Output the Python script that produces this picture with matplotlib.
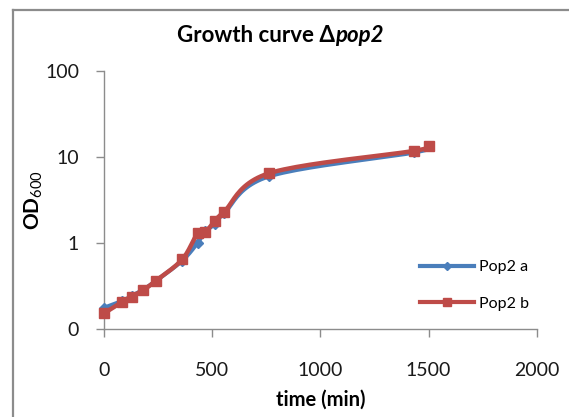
import numpy as np
import matplotlib
matplotlib.use('Agg')
import matplotlib.pyplot as plt
from matplotlib.lines import Line2D
from matplotlib.ticker import FixedLocator, FixedFormatter, NullLocator

# growth curve data
time_min = [0, 85, 128, 182, 240, 362, 433, 467, 513, 555, 762, 1434, 1502]
od_pop2a = [0.175, 0.21, 0.24, 0.285, 0.36, 0.62, 1.0, 1.35, 1.65, 2.2, 5.9, 11.2, 13.2]
od_pop2b = [0.151, 0.206, 0.236, 0.282, 0.361, 0.641, 1.29, 1.32, 1.80, 2.29, 6.41, 11.7, 13.4]

yticks = [0.1, 1, 10, 100]
ytick_labels = ['0', '1', '10', '100']
xticks = [0, 500, 1000, 1500, 2000]

FONT = ['Lato', 'DejaVu Sans']
plt.rcParams['font.family'] = FONT
plt.rcParams['mathtext.fontset'] = 'custom'
plt.rcParams['mathtext.rm'] = 'Lato'
plt.rcParams['mathtext.bf'] = 'Lato:bold'

BLUE = '#4a7ebb'
RED = '#be4b48'
GREY = '#8c8c8c'


def smooth(x, y, n=24):
    # catmull-rom through the points, done in log y like the excel smoothed line
    px = np.asarray(x, float)
    py = np.log10(np.asarray(y, float))
    px = np.concatenate([[px[0]], px, [px[-1]]])
    py = np.concatenate([[py[0]], py, [py[-1]]])
    xs, ys = [], []
    t = np.linspace(0, 1, n)
    for i in range(1, len(px) - 2):
        for p, out in ((px, xs), (py, ys)):
            p0, p1, p2, p3 = p[i - 1], p[i], p[i + 1], p[i + 2]
            out.extend(0.5 * (2 * p1 + (-p0 + p2) * t
                              + (2 * p0 - 5 * p1 + 4 * p2 - p3) * t ** 2
                              + (-p0 + 3 * p1 - 3 * p2 + p3) * t ** 3))
    return np.array(xs), 10 ** np.array(ys)


fig = plt.figure(figsize=(5.69, 4.17), dpi=100)
ax = fig.add_axes([104 / 569, 1 - 328.7 / 417, (536.7 - 104) / 569, (328.7 - 70.7) / 417])

sx, sy = smooth(time_min, od_pop2a)
ax.plot(sx, sy, color=BLUE, lw=3.0, solid_capstyle='round', zorder=3)
ax.plot(time_min, od_pop2a, 'D', color=BLUE, ms=5, zorder=3)
sx, sy = smooth(time_min, od_pop2b)
ax.plot(sx, sy, color=RED, lw=3.2, solid_capstyle='round', zorder=4)
ax.plot(time_min, od_pop2b, 's', color=RED, ms=7, zorder=4)

ax.set_yscale('log')
ax.set_ylim(0.1, 100)
ax.set_xlim(0, 2000)
ax.yaxis.set_major_locator(FixedLocator(yticks))
ax.yaxis.set_major_formatter(FixedFormatter(ytick_labels))
ax.yaxis.set_minor_locator(NullLocator())
ax.set_xticks(xticks)
ax.set_xticklabels([str(v) for v in xticks])

for s in ['top', 'right']:
    ax.spines[s].set_visible(False)
for s in ['left', 'bottom']:
    ax.spines[s].set_color(GREY)
    ax.spines[s].set_linewidth(1.0)
ax.tick_params(axis='both', colors=GREY, labelcolor='#1a1a1a', labelsize=14,
               length=6, width=1.0)
ax.tick_params(axis='x', pad=18)
ax.tick_params(axis='y', pad=12)
for ln in ax.lines:
    ln.set_clip_on(False)

ax.set_xlabel('time (min)', fontsize=14.5, fontweight='bold', labelpad=8)
fig.text(34 / 569, 1 - 200 / 417, r'OD$_{\mathrm{600}}$', fontsize=15,
         fontweight='bold', rotation=90, ha='center', va='center')

# legend
handles = [Line2D([], [], color=BLUE, lw=3, marker='D', ms=4),
           Line2D([], [], color=RED, lw=3, marker='s', ms=6)]
ax.legend(handles, ['Pop2 a', 'Pop2 b'], loc='upper left',
          bbox_to_anchor=(420 / 569, 1 - 260 / 417), bbox_transform=fig.transFigure,
          frameon=False, fontsize=11.5, handlelength=3.4, handletextpad=0.3,
          labelspacing=1.4, borderpad=0, borderaxespad=0)

# title with italic gene name
r = fig.canvas.get_renderer()
t1 = fig.text(0, 0, 'Growth curve \u0394', fontsize=16, fontweight='bold',
              ha='left', va='center')
t2 = fig.text(0, 0, 'pop2', fontsize=16, fontweight='bold', style='italic',
              ha='left', va='center')
w1 = t1.get_window_extent(r).width
w2 = t2.get_window_extent(r).width
x0 = 280.7 - (w1 + w2) / 2
ty = 1 - 35 / 417
t1.set_position((x0 / 569, ty))
t2.set_position(((x0 + w1) / 569, ty))

# outer chart frame (left and top edges show)
fig.add_artist(Line2D([12.5 / 569, 12.5 / 569], [0, 1 - 10 / 417],
                      color=GREY, lw=1.6, transform=fig.transFigure))
fig.add_artist(Line2D([12.5 / 569, 1], [1 - 10 / 417, 1 - 10 / 417],
                      color=GREY, lw=1.6, transform=fig.transFigure))

fig.savefig('out.png', dpi=100)
